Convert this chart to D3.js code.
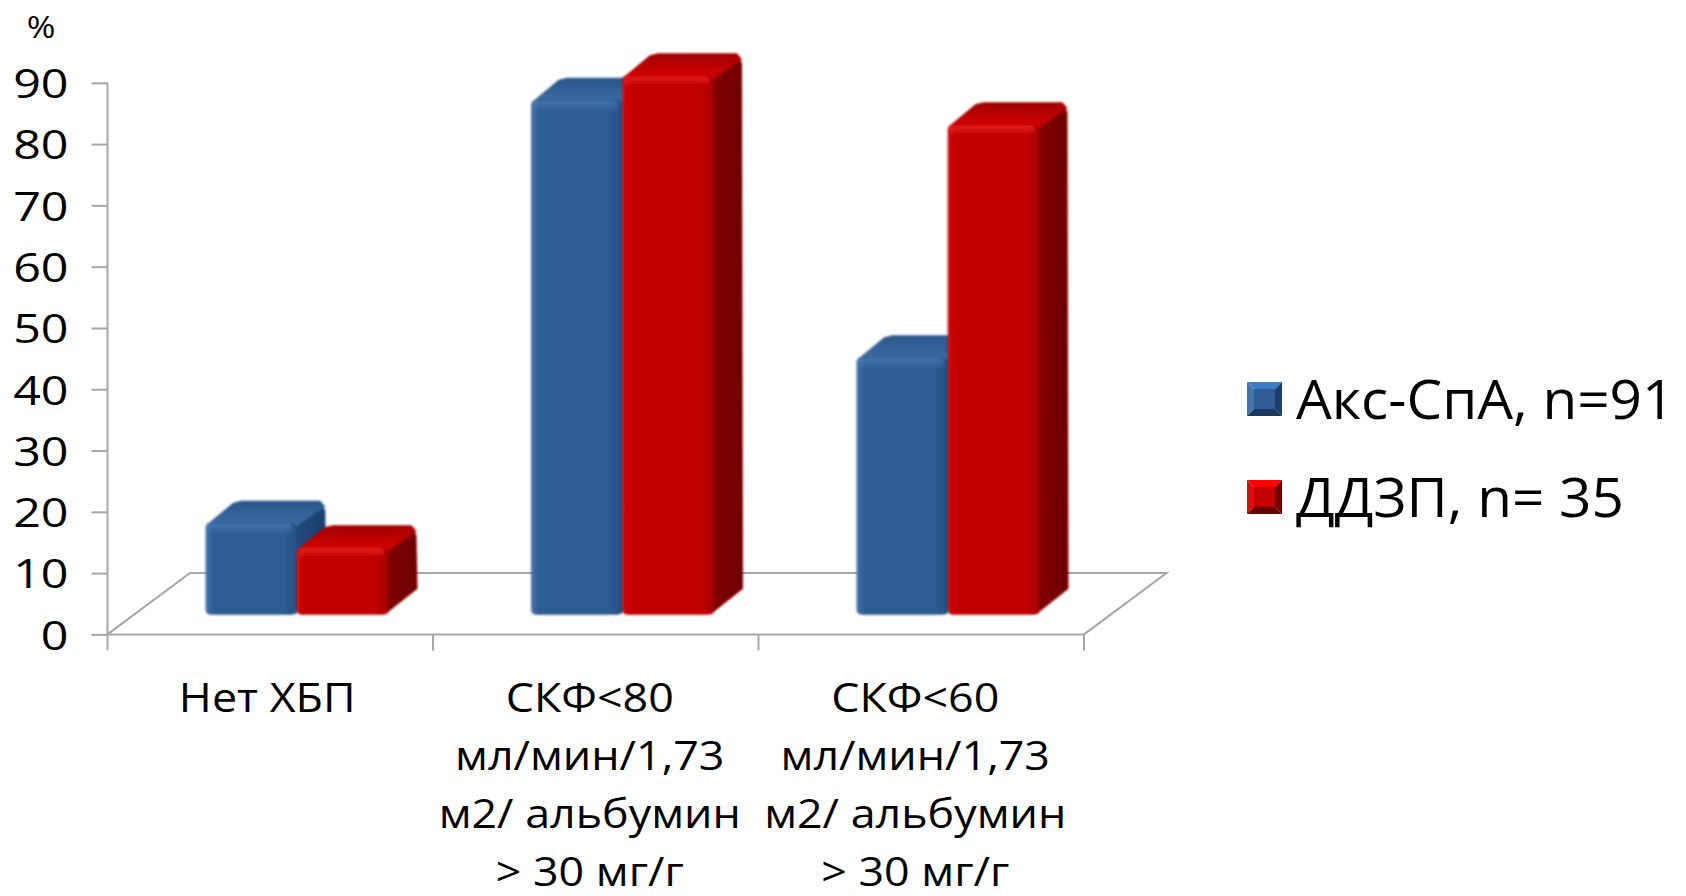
<!DOCTYPE html>
<html>
<head>
<meta charset="utf-8">
<script src="https://cdn.jsdelivr.net/npm/d3@7"></script>
<style>
  html, body { margin: 0; padding: 0; background: #ffffff; }
  svg { display: block; }
  text { font-family: "Open Sans", "Noto Sans", sans-serif; fill: #000; }
</style>
</head>
<body>
<svg id="chart" width="1686" height="896"></svg>
<script>
// ---- data ----
const categories = [
  ["Нет ХБП"],
  ["СКФ<80", "мл/мин/1,73", "м2/ альбумин", "> 30 мг/г"],
  ["СКФ<60", "мл/мин/1,73", "м2/ альбумин", "> 30 мг/г"]
];
const seriesNames = ["Акс-СпА, n=91", "ДДЗП, n= 35"];
const axsValues = [15, 84, 42];
const ddzpValues = [11, 88, 80];
const yTicks = [0, 10, 20, 30, 40, 50, 60, 70, 80, 90];
const yUnit = "%";

const series = [
  { name: seriesNames[0], values: axsValues, key: "blue" },
  { name: seriesNames[1], values: ddzpValues, key: "red" }
];

// ---- geometry ----
const svg = d3.select("#chart");
const front = { left: 107.5, right: 1084, bottom: 634.4, top: 82.8 };
const depth = { dx: 82.5, dy: -61.4 };          // floor depth vector (front -> back)
const barDepth = { from: 0.32, to: 0.68 };      // bars occupy the middle of the floor depth
const stretch = 1.12;                           // horizontal stretch of the text glyphs

const y = d3.scaleLinear().domain([0, 90]).range([front.bottom, front.top]);
const x = d3.scaleBand().domain(d3.range(categories.length)).range([front.left, front.right]).padding(0);
const inner = d3.scaleBand().domain(d3.range(series.length))
  .range([x.bandwidth() * 0.22, x.bandwidth() * 0.78]).padding(0);

// ---- colour gradients ----
const defs = svg.append("defs");
const palettes = {
  blue: { faceL: "#4474ae", face: "#2f5d94", faceR: "#264f82", top: "#3d6ca6", topBack: "#2c5688", side: "#1d3f6a", edge: "#5a88c0" },
  red:  { faceL: "#dd0a0a", face: "#c20000", faceR: "#a80000", top: "#d80404", topBack: "#a00000", side: "#6e0000", edge: "#ff3a3a" }
};
Object.entries(palettes).forEach(([k, p]) => {
  const g = defs.append("linearGradient").attr("id", "face-" + k).attr("x1", 0).attr("x2", 1).attr("y1", 0).attr("y2", 0);
  g.append("stop").attr("offset", 0).attr("stop-color", p.faceL);
  g.append("stop").attr("offset", 0.08).attr("stop-color", p.face);
  g.append("stop").attr("offset", 0.85).attr("stop-color", p.face);
  g.append("stop").attr("offset", 1).attr("stop-color", p.faceR);
  const t = defs.append("linearGradient").attr("id", "top-" + k).attr("x1", 0).attr("x2", 0).attr("y1", 1).attr("y2", 0);
  t.append("stop").attr("offset", 0).attr("stop-color", p.top);
  t.append("stop").attr("offset", 1).attr("stop-color", p.topBack);
  const s = defs.append("linearGradient").attr("id", "side-" + k).attr("x1", 0).attr("x2", 1).attr("y1", 0).attr("y2", 0);
  s.append("stop").attr("offset", 0).attr("stop-color", d3.color(p.side).brighter(0.5));
  s.append("stop").attr("offset", 1).attr("stop-color", p.side);
  const v = defs.append("linearGradient").attr("id", "gloss-" + k).attr("x1", 0).attr("x2", 0).attr("y1", 0).attr("y2", 1);
  v.append("stop").attr("offset", 0).attr("stop-color", p.edge).attr("stop-opacity", 0.55);
  v.append("stop").attr("offset", 1).attr("stop-color", p.edge).attr("stop-opacity", 0);
});
const blur = defs.append("filter").attr("id", "soft").attr("x", "-5%").attr("y", "-5%").attr("width", "110%").attr("height", "110%");
blur.append("feGaussianBlur").attr("stdDeviation", 0.8);

// ---- floor & axes ----
const axisColor = "#a6a6a6";
const floor = svg.append("g").attr("fill", "none").attr("stroke", axisColor).attr("stroke-width", 2);
floor.append("path").attr("d", d3.line()([
  [front.left, front.bottom],
  [front.left + depth.dx, front.bottom + depth.dy],
  [front.right + depth.dx, front.bottom + depth.dy],
  [front.right, front.bottom]
]));

// value axis (front plane)
const yAxis = svg.append("g").attr("transform", `translate(${front.left},0)`)
  .call(d3.axisLeft(y).tickValues(yTicks).tickSize(16).tickPadding(0).tickFormat(d3.format("d")));
yAxis.select(".domain").attr("stroke", axisColor).attr("stroke-width", 2).attr("d", `M0,${y(90)}V${y(0)}`);
yAxis.selectAll(".tick line").attr("stroke", axisColor).attr("stroke-width", 2);
yAxis.selectAll(".tick text")
  .attr("x", null).attr("dy", "0.36em")
  .attr("transform", `translate(-39,0) scale(${stretch + 0.06},1)`)
  .style("font-size", "41px");

// category axis: front floor edge with boundary ticks
const boundaries = d3.range(categories.length + 1).map(i => front.left + i * x.step());
svg.append("line").attr("x1", front.left).attr("x2", front.right)
  .attr("y1", front.bottom).attr("y2", front.bottom).attr("stroke", axisColor).attr("stroke-width", 2);
svg.append("g").selectAll("line").data(boundaries).join("line")
  .attr("x1", d => d).attr("x2", d => d).attr("y1", front.bottom).attr("y2", front.bottom + 16)
  .attr("stroke", axisColor).attr("stroke-width", 2);

svg.append("text").attr("text-anchor", "middle")
  .attr("transform", `translate(41,38) scale(${stretch},1)`)
  .style("font-size", "31px").text(yUnit);

// category labels
const catLabels = svg.append("g").attr("text-anchor", "middle").style("font-size", "40px");
categories.forEach((lines, i) => {
  const cx = x(i) + x.bandwidth() / 2 + (lines.length > 1 ? -6 : -3);
  lines.forEach((ln, j) => catLabels.append("text")
    .attr("transform", `translate(${cx},${712 + j * 58}) scale(${stretch},1)`)
    .text(ln));
});

// ---- 3D bars ----
const bars = svg.append("g");
const dd = barDepth.to - barDepth.from;
categories.forEach((c, ci) => {
  series.forEach((s, si) => {
    const v = s.values[ci];
    const bw = inner.bandwidth();
    const x0 = x(ci) + inner(si) + barDepth.from * depth.dx;
    const yb = y(0) + barDepth.from * depth.dy;
    const yt = y(v) + barDepth.from * depth.dy;
    const ox = dd * depth.dx, oy = dd * depth.dy;
    const g = bars.append("g").attr("class", "bar").attr("filter", "url(#soft)");
    // right side face
    g.append("path").attr("fill", `url(#side-${s.key})`).attr("d", d3.line()([
      [x0 + bw - 2, yt + 3], [x0 + bw + ox - 4, yt + oy + 4], [x0 + bw + ox - 1, yt + oy + 10],
      [x0 + bw + ox, yb + oy - 4], [x0 + bw + 2, yb - 4], [x0 + bw - 2, yb]
    ]) + "Z");
    // top face
    g.append("path").attr("fill", `url(#top-${s.key})`).attr("d", d3.line()([
      [x0 + 1, yt + 2], [x0 + ox - 2, yt + oy + 2], [x0 + ox + 6, yt + oy],
      [x0 + bw + ox - 6, yt + oy], [x0 + bw + ox - 1, yt + oy + 6], [x0 + bw - 1, yt + 4]
    ]) + "Z");
    // front face
    g.append("rect").attr("x", x0).attr("y", yt).attr("width", bw).attr("height", yb - yt)
      .attr("rx", 5).attr("fill", `url(#face-${s.key})`);
    // bevel highlight along the front top edge
    g.append("rect").attr("x", x0 + 2).attr("y", yt + 1).attr("width", bw - 6).attr("height", 10)
      .attr("rx", 4).attr("fill", `url(#gloss-${s.key})`);
  });
});

// ---- legend ----
const legend = svg.append("g").attr("transform", "translate(1247,382)");
series.forEach((s, i) => {
  const p = palettes[s.key];
  const g = legend.append("g").attr("transform", `translate(0,${i * 98})`);
  const w = 35, h = 34, b = 7;
  const quad = pts => d3.line()(pts) + "Z";
  g.append("path").attr("fill", d3.color(p.face).brighter(0.8)).attr("d", quad([[0, 0], [w, 0], [w - b, b], [b, b]]));
  g.append("path").attr("fill", p.faceL).attr("d", quad([[0, 0], [b, b], [b, h - b], [0, h]]));
  g.append("path").attr("fill", p.side).attr("d", quad([[w, 0], [w, h], [w - b, h - b], [w - b, b]]));
  g.append("path").attr("fill", d3.color(p.side).darker(0.3)).attr("d", quad([[0, h], [b, h - b], [w - b, h - b], [w, h]]));
  g.append("rect").attr("x", b).attr("y", b).attr("width", w - 2 * b).attr("height", h - 2 * b).attr("fill", p.face);
  g.append("text").attr("transform", `translate(49,37) scale(1.03,1)`).style("font-size", "55px").text(s.name);
});
</script>
</body>
</html>
